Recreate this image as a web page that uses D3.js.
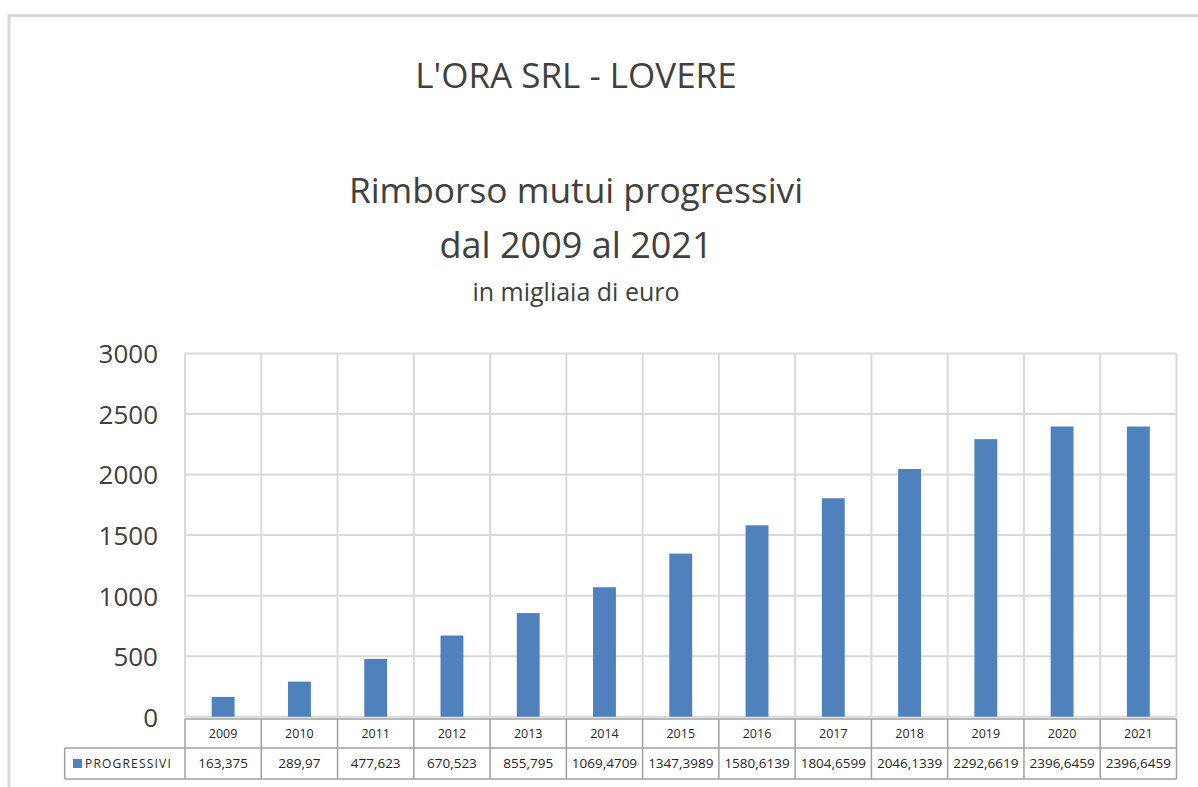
<!DOCTYPE html>
<html>
<head>
<meta charset="utf-8">
<script src="https://cdn.jsdelivr.net/npm/d3@7"></script>
<style>
  body { margin: 0; background: #fff; }
  svg { display: block; font-family: "Open Sans", sans-serif; }
</style>
</head>
<body>
<svg width="1198" height="787"></svg>
<script>
// Chart data
const years = ["2009", "2010", "2011", "2012", "2013", "2014", "2015",
               "2016", "2017", "2018", "2019", "2020", "2021"];
const progressivi = [163.375, 289.97, 477.623, 670.523, 855.795, 1069.4709, 1347.3989,
                     1580.6139, 1804.6599, 2046.1339, 2292.6619, 2396.6459, 2396.6459];
const seriesName = "PROGRESSIVI";
const yTicks = [0, 500, 1000, 1500, 2000, 2500, 3000];
const titleLines = ["L'ORA SRL - LOVERE", "Rimborso mutui progressivi", "dal 2009 al 2021", "in migliaia di euro"];

const svg = d3.select("svg");
const barColor = "#4f81bd";
const gridColor = "#d9d9d9";
const textColor = "#404040";

// Outer chart frame
svg.append("path")
    .attr("d", "M9,800 L9,15.5 L1210,15.5")
    .attr("fill", "none")
    .attr("stroke", gridColor)
    .attr("stroke-width", 3);

// Titles
const titleX = 576;
svg.append("text").attr("x", titleX).attr("y", 88)
    .attr("text-anchor", "middle").attr("font-size", 35).attr("fill", textColor)
    .text(titleLines[0]);
svg.append("text").attr("x", titleX).attr("y", 203)
    .attr("text-anchor", "middle").attr("font-size", 35.3).attr("fill", textColor)
    .text(titleLines[1]);
svg.append("text").attr("x", titleX).attr("y", 258)
    .attr("text-anchor", "middle").attr("font-size", 36).attr("fill", textColor)
    .text(titleLines[2]);
svg.append("text").attr("x", titleX).attr("y", 301)
    .attr("text-anchor", "middle").attr("font-size", 25).attr("fill", textColor)
    .text(titleLines[3]);

// Plot area
const plot = { left: 185, right: 1176.5, top: 353.5, bottom: 716.7 };

const x = d3.scaleBand()
    .domain(years)
    .range([plot.left, plot.right])
    .padding(0);

const y = d3.scaleLinear()
    .domain([0, 3000])
    .range([plot.bottom, plot.top]);

// Horizontal gridlines
svg.append("g")
    .selectAll("line")
    .data(yTicks)
    .join("line")
    .attr("x1", plot.left)
    .attr("x2", plot.right)
    .attr("y1", d => y(d))
    .attr("y2", d => y(d))
    .attr("stroke", gridColor)
    .attr("stroke-width", 2);

// Vertical gridlines at category boundaries
const boundaries = years.map(d => x(d)).concat([plot.right]);
svg.append("g")
    .selectAll("line")
    .data(boundaries)
    .join("line")
    .attr("x1", d => d)
    .attr("x2", d => d)
    .attr("y1", plot.top)
    .attr("y2", plot.bottom)
    .attr("stroke", gridColor)
    .attr("stroke-width", 2);

// Y axis labels
const yAxis = d3.axisLeft(y)
    .tickValues(yTicks)
    .tickFormat(d3.format("d"))
    .tickSize(0)
    .tickPadding(0);
const yAxisG = svg.append("g")
    .attr("transform", `translate(158,0)`)
    .call(yAxis);
yAxisG.select(".domain").remove();
yAxisG.selectAll("text")
    .attr("font-family", "Open Sans, sans-serif")
    .attr("font-size", 26)
    .attr("fill", textColor)
    .attr("dy", "0.36em");

// Bars
const barW = x.bandwidth() * 0.3;
svg.append("g")
    .selectAll("rect")
    .data(progressivi)
    .join("rect")
    .attr("x", (d, i) => x(years[i]) + (x.bandwidth() - barW) / 2)
    .attr("y", d => y(d))
    .attr("width", barW)
    .attr("height", d => y(0) - y(d))
    .attr("fill", barColor);

// Data table
const table = { left: 64.7, top: 719, mid: 748, bottom: 779 };
const tableColor = "#a0a0a0";
const tg = svg.append("g");

// table grid lines
tg.append("line").attr("x1", plot.left).attr("x2", plot.right)
    .attr("y1", table.top).attr("y2", table.top);
tg.append("line").attr("x1", table.left).attr("x2", plot.right)
    .attr("y1", table.mid).attr("y2", table.mid);
tg.append("line").attr("x1", table.left).attr("x2", plot.right)
    .attr("y1", table.bottom).attr("y2", table.bottom);
tg.append("line").attr("x1", table.left).attr("x2", table.left)
    .attr("y1", table.mid).attr("y2", table.bottom);
tg.selectAll("line.col")
    .data(boundaries)
    .join("line")
    .attr("class", "col")
    .attr("x1", d => d).attr("x2", d => d)
    .attr("y1", table.top).attr("y2", table.bottom);
tg.selectAll("line")
    .attr("stroke", tableColor)
    .attr("stroke-width", 1.5);

// year header row
tg.selectAll("text.year")
    .data(years)
    .join("text")
    .attr("class", "year")
    .attr("x", d => x(d) + x.bandwidth() / 2)
    .attr("y", (table.top + table.mid) / 2)
    .attr("dy", "0.36em")
    .attr("text-anchor", "middle")
    .attr("font-size", 12.5)
    .attr("fill", "#262626")
    .text(d => d);

// values row
tg.selectAll("text.val")
    .data(progressivi)
    .join("text")
    .attr("class", "val")
    .attr("x", (d, i) => x(years[i]) + x.bandwidth() / 2)
    .attr("y", (table.mid + table.bottom) / 2)
    .attr("dy", "0.36em")
    .attr("text-anchor", "middle")
    .attr("font-size", 13.5)
    .attr("fill", "#262626")
    .text(d => String(d).replace(".", ","));

// legend key in the table
tg.append("rect")
    .attr("x", 73).attr("y", 759)
    .attr("width", 9).attr("height", 9)
    .attr("fill", barColor);
tg.append("text")
    .attr("x", 85).attr("y", (table.mid + table.bottom) / 2)
    .attr("dy", "0.36em")
    .attr("font-size", 12)
    .attr("letter-spacing", 1.2)
    .attr("fill", "#262626")
    .text(seriesName);
</script>
</body>
</html>
